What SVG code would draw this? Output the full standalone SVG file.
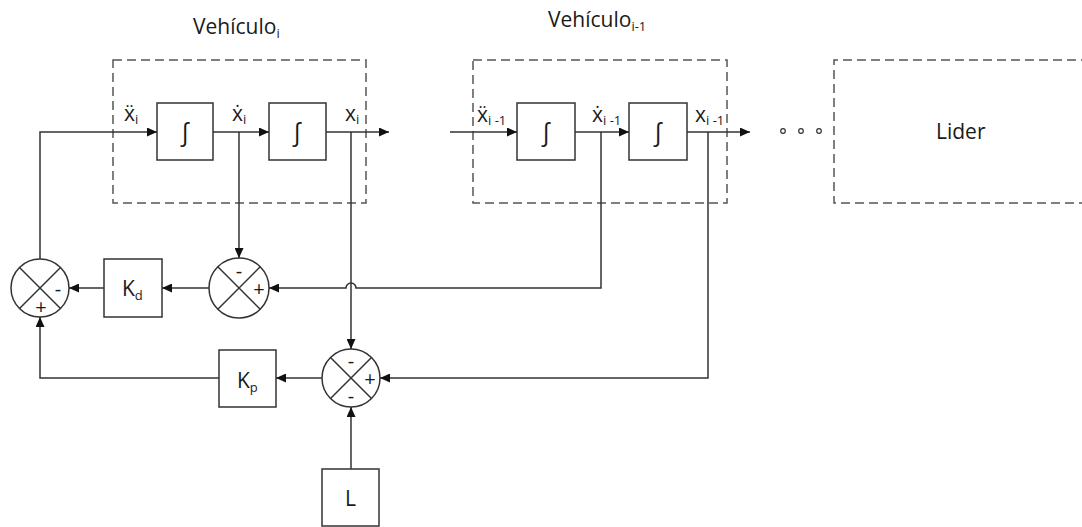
<svg xmlns="http://www.w3.org/2000/svg" width="1082" height="527" viewBox="0 0 1082 527">
<style>
.ln{fill:none;stroke:#333;stroke-width:1.5}
.bx{fill:#fff;stroke:#333;stroke-width:1.5}
.ds{fill:none;stroke:#555;stroke-width:1.5;stroke-dasharray:9 5}
.t{font-family:"Open Sans","DejaVu Sans",sans-serif;fill:#1a1a1a}
.big{font-size:21px}
.lab{font-size:21px}
.sub{font-size:13px}
.int{font-size:25px;text-anchor:middle}
.sg{font-size:20px;text-anchor:middle}
.dot{fill:#fff;stroke:#333;stroke-width:1.2}
</style>
<defs>
<marker id="ar" markerWidth="10" markerHeight="9" refX="10" refY="4.5" orient="auto" markerUnits="userSpaceOnUse">
<path d="M0,0 L10,4.5 L0,9 Z" fill="#111"/>
</marker>
</defs>

<g id="vehiculo_i">
<rect class="ds" x="113" y="60" width="253" height="143"/>
<text class="t big" x="193" y="34">Vehículo<tspan class="sub" dy="4">i</tspan></text>
</g>
<g id="vehiculo_i1">
<rect class="ds" x="473" y="60" width="254" height="143"/>
<text class="t big" x="548" y="27">Vehículo<tspan class="sub" dy="4">i-1</tspan></text>
</g>
<g id="lider">
<path class="ds" d="M1090 60 H834 V203 H1090"/>
<text class="t big" x="936" y="139">Lider</text>
</g>
<g id="dots">
<circle class="dot" cx="783" cy="131" r="2.3"/>
<circle class="dot" cx="801" cy="131" r="2.3"/>
<circle class="dot" cx="819" cy="131" r="2.3"/>
</g>

<g id="int1">
<rect class="bx" x="157" y="103" width="56" height="57"/>
<text class="t int" x="185" y="141">∫</text>
</g>
<g id="int2">
<rect class="bx" x="269" y="103" width="57" height="57"/>
<text class="t int" x="297" y="141">∫</text>
</g>
<g id="int3">
<rect class="bx" x="517" y="103" width="58" height="57"/>
<text class="t int" x="546" y="141">∫</text>
</g>
<g id="int4">
<rect class="bx" x="629" y="103" width="58" height="57"/>
<text class="t int" x="658" y="141">∫</text>
</g>

<g id="labels">
<text class="t lab" x="124" y="121">ẍ<tspan class="sub" dy="3">i</tspan></text>
<text class="t lab" x="232" y="121">ẋ<tspan class="sub" dy="3">i</tspan></text>
<text class="t lab" x="345" y="121">x<tspan class="sub" dy="3">i</tspan></text>
<text class="t lab" x="477" y="122">ẍ<tspan class="sub" dy="3">i -1</tspan></text>
<text class="t lab" x="592" y="122">ẋ<tspan class="sub" dy="3">i -1</tspan></text>
<text class="t lab" x="695" y="122">x<tspan class="sub" dy="3">i -1</tspan></text>
</g>

<g id="sum1">
<circle class="bx" cx="40" cy="288" r="29"/>
<path class="ln" d="M19.5 267.5 L60.5 308.5 M60.5 267.5 L19.5 308.5"/>
<text class="t sg" x="58" y="296">-</text>
<text class="t sg" x="41" y="314">+</text>
</g>
<g id="kd">
<rect class="bx" x="104" y="259" width="58" height="58"/>
<text class="t big" x="122" y="296">K<tspan class="sub" dy="4">d</tspan></text>
</g>
<g id="sum2">
<circle class="bx" cx="239" cy="288" r="30"/>
<path class="ln" d="M217.8 266.8 L260.2 309.2 M260.2 266.8 L217.8 309.2"/>
<text class="t sg" x="239" y="278">-</text>
<text class="t sg" x="259" y="296">+</text>
</g>
<g id="sum3">
<circle class="bx" cx="351" cy="378" r="29"/>
<path class="ln" d="M330.5 357.5 L371.5 398.5 M371.5 357.5 L330.5 398.5"/>
<text class="t sg" x="351" y="368">-</text>
<text class="t sg" x="370" y="386">+</text>
<text class="t sg" x="351" y="403">-</text>
</g>
<g id="kp">
<rect class="bx" x="219" y="350" width="57" height="57"/>
<text class="t big" x="237" y="388">K<tspan class="sub" dy="4">p</tspan></text>
</g>
<g id="L">
<rect class="bx" x="322" y="469" width="57" height="57"/>
<text class="t big" x="350.5" y="506" text-anchor="middle">L</text>
</g>

<g id="connectors">
<path class="ln" d="M40 259 V132 H157" marker-end="url(#ar)"/>
<path class="ln" d="M213 132 H269" marker-end="url(#ar)"/>
<path class="ln" d="M326 132 H389" marker-end="url(#ar)"/>
<path class="ln" d="M450 132 H517" marker-end="url(#ar)"/>
<path class="ln" d="M575 132 H629" marker-end="url(#ar)"/>
<path class="ln" d="M687 132 H750" marker-end="url(#ar)"/>
<path class="ln" d="M239 132 V258" marker-end="url(#ar)"/>
<path class="ln" d="M351 132 V349" marker-end="url(#ar)"/>
<path class="ln" d="M601 132 V288 H356 A5 5 0 0 0 346 288 H269" marker-end="url(#ar)"/>
<path class="ln" d="M209 288 H162" marker-end="url(#ar)"/>
<path class="ln" d="M104 288 H69" marker-end="url(#ar)"/>
<path class="ln" d="M708 132 V378 H380" marker-end="url(#ar)"/>
<path class="ln" d="M322 378 H276" marker-end="url(#ar)"/>
<path class="ln" d="M219 378 H40 V317" marker-end="url(#ar)"/>
<path class="ln" d="M351 469 V407" marker-end="url(#ar)"/>
</g>
</svg>
